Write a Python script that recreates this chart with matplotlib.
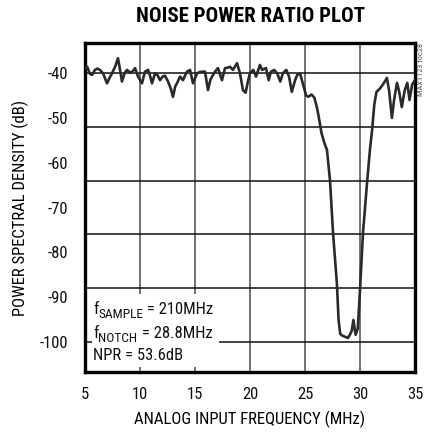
import matplotlib
matplotlib.use("Agg")
import matplotlib.pyplot as plt
from matplotlib.patches import Rectangle
from matplotlib import font_manager
from matplotlib.font_manager import FontProperties

# ---- data ----
freq_mhz = [5.0, 5.2, 5.45, 5.65, 5.9, 6.15, 6.4, 6.65, 7.0, 7.25, 7.45, 7.75, 8.0, 8.2, 8.36,
            8.6, 8.82, 9.09, 9.3, 9.55, 9.82, 10.18, 10.45, 10.73, 10.9, 11.09, 11.36, 11.6,
            11.82, 12.05, 12.27, 12.55, 12.8, 13.0, 13.2, 13.36, 13.64, 13.91, 14.1, 14.27,
            14.55, 14.82, 15.18, 15.4, 15.64, 15.91, 16.18, 16.4, 16.55, 16.82, 17.09, 17.45,
            17.73, 18.0, 18.18, 18.45, 18.82, 19.09, 19.36, 19.6, 19.8, 20.0, 20.3, 20.55,
            20.9, 21.1, 21.45, 21.7, 21.9, 22.2, 22.5, 22.75, 23.0, 23.3, 23.55, 23.8, 24.1,
            24.3, 24.55, 24.8, 25.1, 25.3, 25.6, 25.85, 26.1, 26.3, 26.5, 26.75, 27.0, 27.27,
            27.55, 27.9, 28.05, 28.2, 28.4, 28.6, 28.9, 29.1, 29.25, 29.4, 29.6, 29.8, 30.0,
            30.27, 30.64, 30.9, 31.1, 31.3, 31.5, 31.8, 32.1, 32.45, 32.65, 32.9, 33.1, 33.36,
            33.55, 33.8, 34.05, 34.3, 34.5, 34.75, 35.0]
psd_db = [-39.0, -38.6, -40.2, -40.4, -39.3, -39.0, -39.4, -40.1, -42.3, -41.0, -40.1, -38.5,
          -36.7, -39.5, -41.9, -40.0, -39.3, -39.9, -39.7, -38.9, -40.8, -42.3, -39.7, -39.3,
          -40.5, -42.3, -40.1, -40.5, -41.6, -40.8, -40.6, -41.9, -43.5, -45.3, -43.0, -42.3,
          -40.8, -41.6, -40.5, -39.7, -39.3, -42.3, -40.1, -39.8, -39.7, -39.7, -43.8, -41.5,
          -40.8, -39.7, -38.9, -41.6, -38.9, -38.8, -38.6, -39.3, -37.8, -40.1, -43.8, -44.4,
          -42.0, -40.0, -39.3, -40.8, -38.2, -39.3, -38.9, -41.6, -39.7, -39.3, -40.2, -41.9,
          -40.0, -39.3, -40.8, -44.2, -41.6, -40.4, -40.1, -42.3, -45.0, -45.3, -44.8, -45.5,
          -47.8, -50.5, -53.4, -55.5, -57.2, -63.9, -75.7, -87.0, -95.0, -98.2, -98.6, -98.8,
          -99.1, -98.3, -97.5, -95.1, -98.4, -97.0, -88.4, -75.7, -64.5, -57.2, -52.7, -47.0,
          -44.2, -43.5, -42.5, -41.1, -44.0, -50.0, -46.0, -42.2, -44.0, -47.6, -44.0, -42.2,
          -46.0, -42.5, -41.6]

x_ticks = [5, 10, 15, 20, 25, 30, 35]
y_tick_values = [-40, -50, -60, -70, -80, -90, -100]
y_grid_values = [-40, -52, -64, -76, -88, -100]
note_main = ["f", "f", "NPR = 53.6dB"]
note_sub = ["SAMPLE", "NOTCH", ""]
note_rest = [" = 210MHz", " = 28.8MHz", ""]

# ---- condensed font selection ----
entries = font_manager.fontManager.ttflist
def pick(bold):
    pref = ["Liberation Sans Narrow", "Roboto Condensed", "Open Sans Condensed",
            "Noto Sans Condensed", "DejaVu Sans Condensed", "Arial Narrow"]
    def isbold(e):
        w = e.weight
        try:
            w = int(w)
        except (TypeError, ValueError):
            w = 700 if str(w).lower() in ("bold", "heavy", "black", "extra bold", "demibold") else 400
        return w >= 600
    def cond(e):
        return ('condensed' in str(e.stretch).lower() or 'narrow' in e.name.lower()
                or 'condensed' in e.name.lower() or 'condensed' in e.fname.lower()
                or 'narrow' in e.fname.lower())
    cands = [e for e in entries if cond(e) and e.style == 'normal' and isbold(e) == bold
             and 'semi' not in str(e.stretch).lower()]
    for p in pref:
        for e in cands:
            if e.name == p or p.replace(' ', '') in e.fname.replace(' ', ''):
                return e.fname
    for e in cands:
        if 'sans' in e.name.lower() or 'sans' in e.fname.lower():
            return e.fname
    if cands:
        return cands[0].fname
    return None

reg_file = pick(False)
bold_file = pick(True)
def fp(size, bold=False):
    f = bold_file if bold else reg_file
    if f:
        return FontProperties(fname=f, size=size)
    return FontProperties(family=['Liberation Sans', 'DejaVu Sans'], size=size,
                          weight='bold' if bold else 'normal')

condensed = reg_file is not None
lab_size = 12 if condensed else 11
W, H = 425, 432
fig = plt.figure(figsize=(W / 100, H / 100), dpi=100)
L, R, T, B = 85, 415, 43, 372
ax = fig.add_axes([L / W, 1 - B / H, (R - L) / W, (B - T) / H])

ax.set_xlim(5, 35)
ax.set_ylim(-106.7, -33.3)

for xv in x_ticks[1:-1]:
    ax.axvline(xv, color='#4a4a4a', lw=1.1, zorder=1)
for yv in y_grid_values:
    ax.axhline(yv, color='#111111', lw=1.1, zorder=1)

ax.plot(freq_mhz, psd_db, color='#2a2a2a', lw=1.9, zorder=3, solid_joinstyle='round')

ax.set_xticks(x_ticks)
ax.set_xticklabels([str(v) for v in x_ticks], fontproperties=fp(lab_size))
ax.set_yticks(y_tick_values)
ax.set_yticklabels([str(v) for v in y_tick_values], fontproperties=fp(lab_size))
ax.tick_params(axis='both', length=0, colors='#111111')
ax.tick_params(axis='x', pad=11)
ax.tick_params(axis='y', pad=12)

for s in ax.spines.values():
    s.set_linewidth(2.4)
    s.set_color('black')

ax.set_xlabel("ANALOG INPUT FREQUENCY (MHz)", fontproperties=fp(lab_size), va='center')
ax.xaxis.set_label_coords(0.5, (B - 419) / (B - T))
ax.set_ylabel("POWER SPECTRAL DENSITY (dB)", fontproperties=fp(lab_size), va='center')
ax.yaxis.set_label_coords((20 - L) / (R - L), 0.5)

# white box behind notes
bx0, bx1, by0, by1 = 92, 219, 294, 367
ax.add_patch(Rectangle(((bx0 - L) / (R - L), (B - by1) / (B - T)), (bx1 - bx0) / (R - L),
                       (by1 - by0) / (B - T), transform=ax.transAxes, facecolor='white',
                       edgecolor='none', zorder=2))

fig.canvas.draw()
renderer = fig.canvas.get_renderer()
for m, sb, rest, yc in zip(note_main, note_sub, note_rest, [310, 334, 355]):
    x = 93
    t1 = fig.text(x / W, 1 - yc / H, m, fontproperties=fp(lab_size), va='center', ha='left',
                  color='#111111', zorder=5)
    if sb:
        x += t1.get_window_extent(renderer).width
        t2 = fig.text(x / W, 1 - (yc + 4) / H, sb, fontproperties=fp(lab_size * 0.8),
                      va='center', ha='left', color='#111111', zorder=5)
        x += t2.get_window_extent(renderer).width
        fig.text(x / W, 1 - yc / H, rest, fontproperties=fp(lab_size), va='center',
                 ha='left', color='#111111', zorder=5)

fig.text(250 / W, 1 - 16 / H, "NOISE POWER RATIO PLOT", ha='center', va='center',
         fontproperties=fp(15 if condensed else 14, bold=True), color='black')
fig.text(421 / W, 1 - 43 / H, "MAX1123 toc28", rotation=90, ha='center', va='top',
         fontproperties=fp(6), color='#555555')

fig.savefig("out.png", dpi=100)
